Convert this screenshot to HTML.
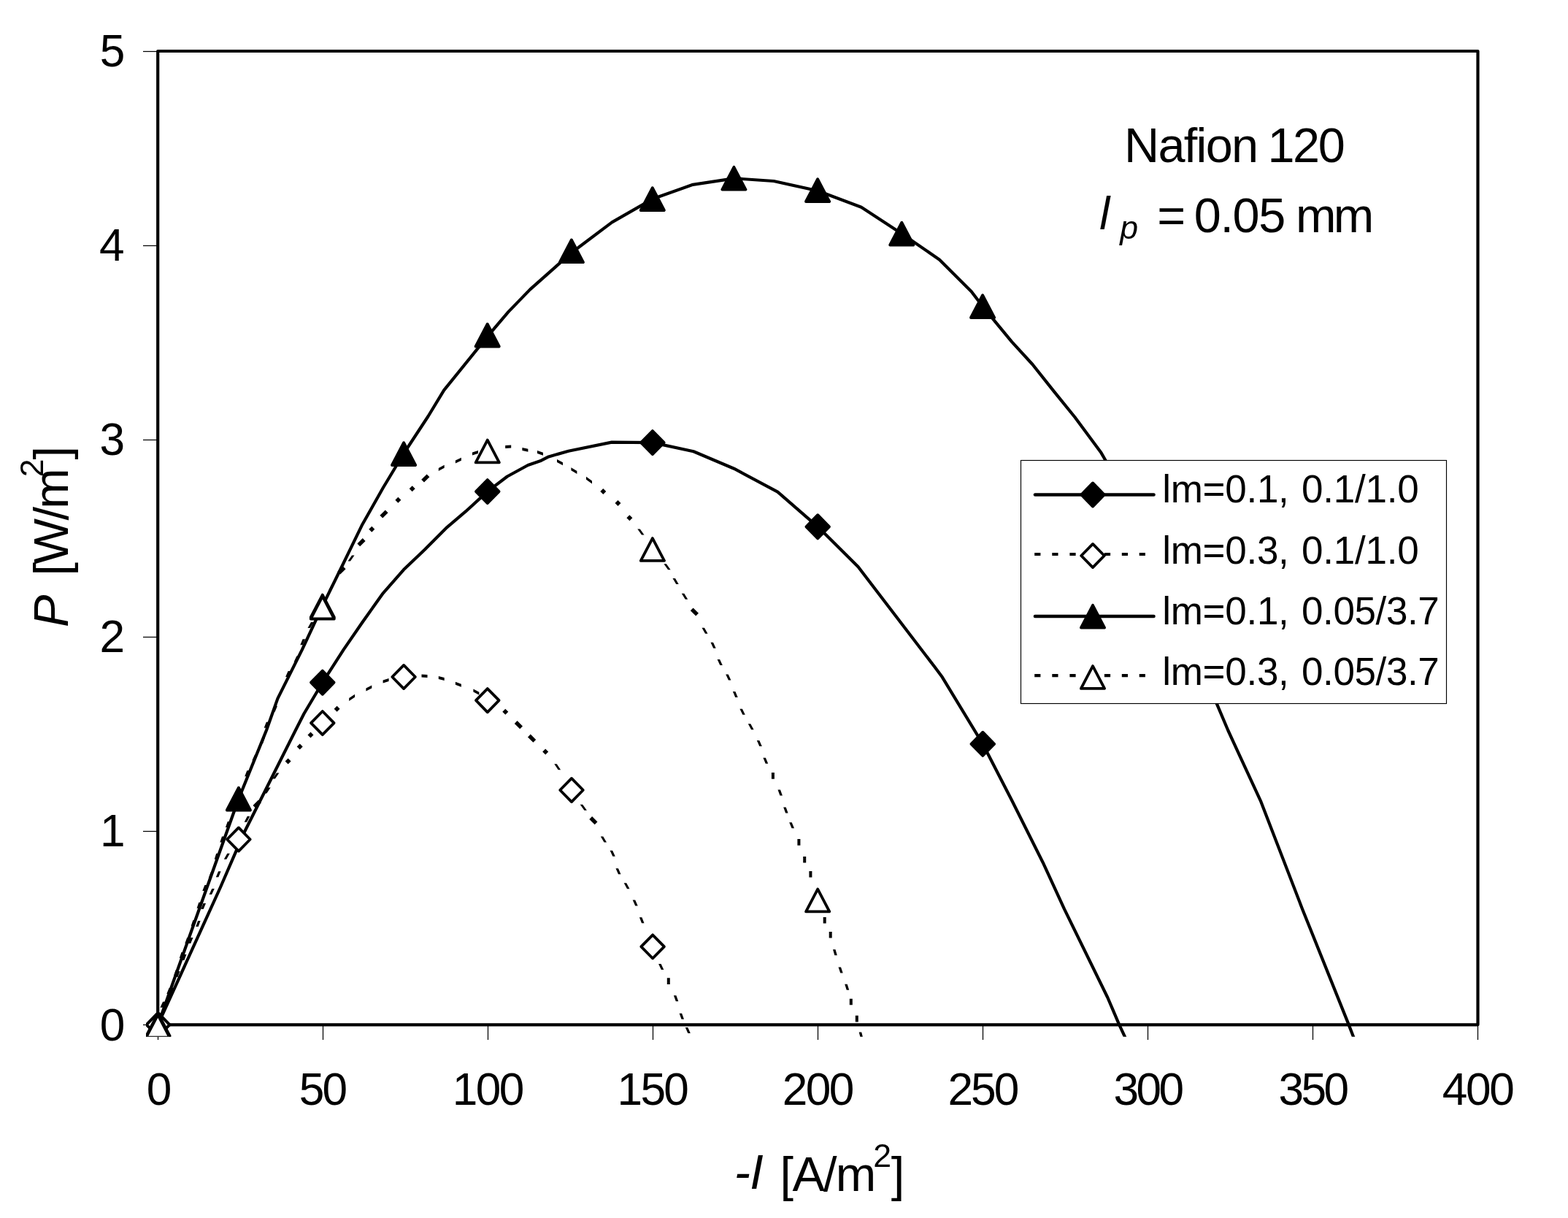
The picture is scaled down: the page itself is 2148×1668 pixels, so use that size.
<!DOCTYPE html>
<html><head><meta charset="utf-8"><title>Nafion 120 power density</title>
<style>html,body{margin:0;padding:0;background:#fff}svg{display:block}text{font-family:"Liberation Sans", Arial, Helvetica, sans-serif;fill:#000}</style></head><body>
<svg width="2148" height="1668" viewBox="0 0 2148 1668">
<rect width="2148" height="1668" fill="#fff"/>
<defs><clipPath id="pc"><rect x="200" y="52" width="1844" height="1367.8"/></clipPath></defs>
<line x1="196" x2="216" y1="70.5" y2="70.5" stroke="#000" stroke-width="1.25"/>
<line x1="196" x2="216" y1="336.5" y2="336.5" stroke="#000" stroke-width="1.25"/>
<line x1="196" x2="216" y1="602.5" y2="602.5" stroke="#000" stroke-width="1.25"/>
<line x1="196" x2="216" y1="872.5" y2="872.5" stroke="#000" stroke-width="1.25"/>
<line x1="196" x2="216" y1="1138.5" y2="1138.5" stroke="#000" stroke-width="1.25"/>
<line x1="196" x2="216" y1="1403.5" y2="1403.5" stroke="#000" stroke-width="1.25"/>
<line x1="216.5" x2="216.5" y1="1403" y2="1424" stroke="#000" stroke-width="1.25"/>
<line x1="442.5" x2="442.5" y1="1403" y2="1424" stroke="#000" stroke-width="1.25"/>
<line x1="668.5" x2="668.5" y1="1403" y2="1424" stroke="#000" stroke-width="1.25"/>
<line x1="894.5" x2="894.5" y1="1403" y2="1424" stroke="#000" stroke-width="1.25"/>
<line x1="1120.5" x2="1120.5" y1="1403" y2="1424" stroke="#000" stroke-width="1.25"/>
<line x1="1346.5" x2="1346.5" y1="1403" y2="1424" stroke="#000" stroke-width="1.25"/>
<line x1="1572.5" x2="1572.5" y1="1403" y2="1424" stroke="#000" stroke-width="1.25"/>
<line x1="1798.5" x2="1798.5" y1="1403" y2="1424" stroke="#000" stroke-width="1.25"/>
<line x1="2024.5" x2="2024.5" y1="1403" y2="1424" stroke="#000" stroke-width="1.25"/>
<rect x="216.2" y="70" width="1808.3" height="1333.3" fill="none" stroke="#000" stroke-width="4.2" stroke-linejoin="round"/>
<g clip-path="url(#pc)" fill="none" stroke="#000" stroke-linejoin="round">
<path d="M216.5,1403.0 L302.0,1215.0 L323.1,1166.3 L335.3,1138.5 L404.9,1000.0 L416.5,977.3 L441.8,934.7 L470.7,889.6 L496.4,852.2 L524.8,812.3 L553.1,780.1 L581.5,753.0 L612.4,722.1 L638.2,700.2 L667.8,673.1 L694.9,652.5 L723.3,637.0 L740.0,631.3 L751.6,625.4 L778.7,617.7 L838.0,605.6 L893.9,606.1 L950.1,618.2 L1005.5,641.7 L1065.3,673.6 L1120.2,721.3 L1175.6,776.2 L1229.7,847.1 L1280.0,912.8 L1290.8,927.3 L1346.3,1018.8 L1386.2,1096.2 L1428.7,1181.2 L1458.0,1244.9 L1517.3,1366.0 L1532.7,1402.1 L1540.5,1418.9 L1549.8,1438.9" stroke-width="4.2"/>
<path d="M216.5,1387.2 l15.8,16.1 l-15.8,16.1 l-15.8,-16.1 z" fill="#000" stroke="#000" stroke-width="3.8" stroke-linejoin="round"/>
<path d="M441.8,918.6 l15.8,16.1 l-15.8,16.1 l-15.8,-16.1 z" fill="#000" stroke="#000" stroke-width="3.8" stroke-linejoin="round"/>
<path d="M667.8,657.0 l15.8,16.1 l-15.8,16.1 l-15.8,-16.1 z" fill="#000" stroke="#000" stroke-width="3.8" stroke-linejoin="round"/>
<path d="M893.9,590.0 l15.8,16.1 l-15.8,16.1 l-15.8,-16.1 z" fill="#000" stroke="#000" stroke-width="3.8" stroke-linejoin="round"/>
<path d="M1120.2,705.2 l15.8,16.1 l-15.8,16.1 l-15.8,-16.1 z" fill="#000" stroke="#000" stroke-width="3.8" stroke-linejoin="round"/>
<path d="M1346.3,1002.7 l15.8,16.1 l-15.8,16.1 l-15.8,-16.1 z" fill="#000" stroke="#000" stroke-width="3.8" stroke-linejoin="round"/>
<path d="M225.3,1376.0 L228.8,1376.0 L225.7,1384.0 L222.2,1384.0Z M234.2,1353.0 L237.7,1353.0 L234.6,1361.0 L231.1,1361.0Z M243.1,1330.0 L246.6,1330.0 L243.5,1338.0 L240.0,1338.0Z M252.0,1307.0 L255.5,1307.0 L252.4,1315.0 L248.9,1315.0Z M261.0,1284.1 L264.5,1284.1 L261.2,1292.0 L257.7,1292.0Z M271.1,1261.0 L274.6,1261.0 L271.7,1268.9 L268.2,1268.9Z M278.5,1237.0 L282.0,1237.0 L278.7,1245.0 L275.2,1245.0Z M290.3,1217.1 L293.8,1217.1 L290.1,1225.0 L286.6,1225.0Z M299.1,1193.2 L302.6,1193.2 L299.3,1201.2 L295.8,1201.2Z M311.3,1168.8 L314.8,1168.8 L310.3,1176.7 L306.8,1176.7Z M327.3,1145.5 L330.8,1145.5 L326.6,1153.5 L323.1,1153.5Z M338.8,1117.8 L342.3,1117.8 L338.2,1125.8 L334.7,1125.8Z M346.5,1103.0 L353.9,1095.6 L357.7,1099.4 L350.3,1106.8Z M367.2,1078.5 L370.7,1078.5 L365.4,1086.5 L361.9,1086.5Z M378.9,1058.5 L382.4,1058.5 L376.9,1066.5 L373.4,1066.5Z M390.6,1042.5 L394.6,1038.5 L398.6,1042.5 L394.6,1046.5Z M406.7,1022.6 L410.7,1018.6 L414.7,1022.6 L410.7,1026.6Z M421.5,1006.4 L425.5,1002.4 L429.5,1006.4 L425.5,1010.4Z M437.8,990.1 L441.8,986.1 L445.8,990.1 L441.8,994.1Z M457.6,970.8 L461.6,966.8 L465.6,970.8 L461.6,974.8Z M478.2,956.0 L486.1,950.8 L486.1,954.8 L478.2,960.0Z M501.4,942.5 L509.3,938.5 L509.3,942.5 L501.4,946.5Z M524.6,931.5 L532.6,928.9 L532.6,932.9 L524.6,935.5Z M549.1,925.5 L557.1,924.5 L557.1,928.5 L549.1,929.5Z M577.5,923.5 L585.5,923.9 L585.5,927.9 L577.5,927.5Z M600.8,926.0 L608.7,928.0 L608.7,932.0 L600.8,930.0Z M623.9,933.8 L631.9,936.8 L631.9,940.8 L623.9,937.8Z M648.4,943.4 L656.4,947.8 L656.4,951.8 L648.4,947.4Z M663.8,954.5 L671.8,959.9 L671.8,963.9 L663.8,958.5Z M688.3,974.7 L692.3,970.7 L696.3,974.7 L692.3,978.7Z M708.6,987.1 L716.0,994.5 L712.2,998.3 L704.8,990.9Z M726.8,1005.6 L734.2,1013.0 L730.4,1016.8 L723.0,1009.4Z M743.2,1029.6 L747.2,1025.6 L751.2,1029.6 L747.2,1033.6Z M759.3,1046.3 L762.8,1046.3 L768.1,1054.2 L764.6,1054.2Z M778.7,1078.0 L782.2,1078.0 L787.3,1086.0 L783.8,1086.0Z M794.7,1101.8 L798.2,1101.8 L803.9,1109.7 L800.4,1109.7Z M811.1,1118.1 L818.5,1125.5 L814.7,1129.3 L807.3,1121.9Z M822.8,1145.5 L826.3,1145.5 L831.0,1153.5 L827.5,1153.5Z M835.6,1164.8 L839.1,1164.8 L842.8,1172.8 L839.3,1172.8Z M843.5,1189.3 L847.0,1189.3 L850.5,1197.2 L847.0,1197.2Z M854.7,1209.2 L858.2,1209.2 L862.5,1217.2 L859.0,1217.2Z M866.7,1232.6 L870.2,1232.6 L873.7,1240.5 L870.2,1240.5Z M875.9,1256.3 L879.4,1256.3 L882.5,1264.2 L879.0,1264.2Z M890.7,1292.5 L894.2,1292.5 L897.5,1300.4 L894.0,1300.4Z M902.1,1320.0 L905.6,1320.0 L909.3,1328.0 L905.8,1328.0Z M913.8,1339.3 L917.8,1339.3 L917.8,1347.9 L913.8,1347.9Z M922.9,1363.3 L926.4,1363.3 L929.3,1371.2 L925.8,1371.2Z M930.6,1387.8 L934.1,1387.8 L937.0,1395.8 L933.5,1395.8Z M938.8,1407.1 L942.3,1407.1 L945.8,1415.0 L942.3,1415.0Z" fill="#000" stroke="none"/>
<path d="M216.5,1387.2 l15.8,16.1 l-15.8,16.1 l-15.8,-16.1 z" fill="#fff" stroke="#000" stroke-width="3.8" stroke-linejoin="round"/>
<path d="M326.9,1133.4 l15.8,16.1 l-15.8,16.1 l-15.8,-16.1 z" fill="#fff" stroke="#000" stroke-width="3.8" stroke-linejoin="round"/>
<path d="M441.8,974.0 l15.8,16.1 l-15.8,16.1 l-15.8,-16.1 z" fill="#fff" stroke="#000" stroke-width="3.8" stroke-linejoin="round"/>
<path d="M553.1,910.9 l15.8,16.1 l-15.8,16.1 l-15.8,-16.1 z" fill="#fff" stroke="#000" stroke-width="3.8" stroke-linejoin="round"/>
<path d="M667.8,943.1 l15.8,16.1 l-15.8,16.1 l-15.8,-16.1 z" fill="#fff" stroke="#000" stroke-width="3.8" stroke-linejoin="round"/>
<path d="M783.0,1065.9 l15.8,16.1 l-15.8,16.1 l-15.8,-16.1 z" fill="#fff" stroke="#000" stroke-width="3.8" stroke-linejoin="round"/>
<path d="M894.1,1280.3 l15.8,16.1 l-15.8,16.1 l-15.8,-16.1 z" fill="#fff" stroke="#000" stroke-width="3.8" stroke-linejoin="round"/>
<path d="M216.5,1403.0 L326.5,1095.0 L365.0,1000.0 L380.4,956.6 L413.9,889.6 L441.8,829.8 L468.1,776.2 L496.4,718.2 L524.8,668.0 L553.1,621.0 L586.6,570.0 L608.2,534.4 L667.7,460.9 L696.6,426.9 L726.2,396.4 L783.0,346.0 L838.4,304.4 L893.8,272.6 L949.2,252.8 L1005.4,244.3 L1060.0,248.0 L1120.1,261.3 L1179.9,283.8 L1235.3,320.1 L1286.8,355.4 L1330.7,399.2 L1346.1,419.6 L1386.1,468.1 L1414.4,499.0 L1444.1,536.4 L1472.4,571.2 L1508.5,620.1 L1514.2,630.0 L1666.7,963.4 L1682.2,1000.0 L1696.4,1030.9 L1727.4,1097.9 L1784.1,1244.9 L1847.2,1402.1 L1853.7,1418.9 L1861.4,1438.8" stroke-width="4.2"/>
<path d="M216.5,1387.9 l16.1,30.8 l-32.2,0 z" fill="#000" stroke="#000" stroke-width="3.8" stroke-linejoin="round"/>
<path d="M326.9,1078.7 l16.1,30.8 l-32.2,0 z" fill="#000" stroke="#000" stroke-width="3.8" stroke-linejoin="round"/>
<path d="M441.8,814.6 l16.1,30.8 l-32.2,0 z" fill="#000" stroke="#000" stroke-width="3.8" stroke-linejoin="round"/>
<path d="M553.1,606.2 l16.1,30.8 l-32.2,0 z" fill="#000" stroke="#000" stroke-width="3.8" stroke-linejoin="round"/>
<path d="M667.7,443.7 l16.1,30.8 l-32.2,0 z" fill="#000" stroke="#000" stroke-width="3.8" stroke-linejoin="round"/>
<path d="M782.9,328.4 l16.1,30.8 l-32.2,0 z" fill="#000" stroke="#000" stroke-width="3.8" stroke-linejoin="round"/>
<path d="M893.8,257.2 l16.1,30.8 l-32.2,0 z" fill="#000" stroke="#000" stroke-width="3.8" stroke-linejoin="round"/>
<path d="M1005.4,228.8 l16.1,30.8 l-32.2,0 z" fill="#000" stroke="#000" stroke-width="3.8" stroke-linejoin="round"/>
<path d="M1120.1,245.2 l16.1,30.8 l-32.2,0 z" fill="#000" stroke="#000" stroke-width="3.8" stroke-linejoin="round"/>
<path d="M1235.3,304.7 l16.1,30.8 l-32.2,0 z" fill="#000" stroke="#000" stroke-width="3.8" stroke-linejoin="round"/>
<path d="M1346.1,404.2 l16.1,30.8 l-32.2,0 z" fill="#000" stroke="#000" stroke-width="3.8" stroke-linejoin="round"/>
<path d="M223.1,1371.8 L226.6,1371.8 L222.9,1379.7 L219.4,1379.7Z M231.6,1353.0 L235.1,1353.0 L231.8,1361.0 L228.3,1361.0Z M240.6,1328.5 L244.1,1328.5 L241.4,1336.5 L237.9,1336.5Z M248.5,1304.0 L252.0,1304.0 L249.3,1312.0 L245.8,1312.0Z M256.2,1284.0 L259.7,1284.0 L256.8,1292.0 L253.3,1292.0Z M264.3,1260.2 L267.8,1260.2 L265.1,1268.2 L261.6,1268.2Z M272.3,1235.8 L275.8,1235.8 L273.1,1243.7 L269.6,1243.7Z M280.4,1212.0 L283.9,1212.0 L280.8,1220.0 L277.3,1220.0Z M288.6,1194.5 L292.1,1194.5 L289.2,1202.5 L285.7,1202.5Z M296.2,1168.8 L299.7,1168.8 L297.2,1176.7 L293.7,1176.7Z M304.0,1145.5 L307.5,1145.5 L304.8,1153.5 L301.3,1153.5Z M311.8,1125.0 L315.3,1125.0 L312.4,1132.9 L308.9,1132.9Z M338.3,1055.3 L341.8,1055.3 L338.7,1063.2 L335.2,1063.2Z M349.0,1033.5 L352.5,1033.5 L348.8,1041.4 L345.3,1041.4Z M359.5,1010.2 L363.0,1010.2 L360.1,1018.2 L356.6,1018.2Z M364.8,988.8 L368.3,988.8 L365.2,996.7 L361.7,996.7Z M376.5,966.8 L380.0,966.8 L376.7,974.8 L373.2,974.8Z M394.6,919.1 L398.1,919.1 L394.6,927.1 L391.1,927.1Z M406.3,898.5 L409.8,898.5 L406.1,906.5 L402.6,906.5Z M414.6,875.3 L418.1,875.3 L414.8,883.2 L411.3,883.2Z M426.0,852.1 L429.5,852.1 L425.0,860.1 L421.5,860.1Z M442.2,828.1 L445.7,828.1 L441.4,836.1 L437.9,836.1Z M454.2,800.6 L457.7,800.6 L453.6,808.6 L450.1,808.6Z M462.4,782.8 L469.8,775.4 L473.6,779.2 L466.2,786.6Z M482.0,760.6 L485.5,760.6 L480.0,768.6 L476.5,768.6Z M489.4,744.5 L496.8,737.1 L500.6,740.9 L493.2,748.3Z M505.3,724.7 L509.3,720.7 L513.3,724.7 L509.3,728.7Z M520.4,705.8 L527.8,698.4 L531.6,702.2 L524.2,709.6Z M541.4,684.7 L545.4,680.7 L549.4,684.7 L545.4,688.7Z M560.7,669.2 L564.7,665.2 L568.7,669.2 L564.7,673.2Z M577.2,656.8 L584.6,649.4 L588.4,653.2 L581.0,660.6Z M600.8,641.0 L608.7,636.8 L608.7,640.8 L600.8,645.0Z M623.9,630.4 L631.9,626.8 L631.9,630.8 L623.9,634.4Z M647.0,619.5 L655.0,617.1 L655.0,621.1 L647.0,623.5Z M663.8,616.7 L671.8,615.3 L671.8,619.3 L663.8,620.7Z M692.2,610.0 L700.2,609.6 L700.2,613.6 L692.2,614.0Z M715.4,613.1 L723.4,614.7 L723.4,618.7 L715.4,617.1Z M736.0,616.9 L744.0,619.7 L744.0,623.7 L736.0,620.9Z M763.0,629.1 L771.0,633.3 L771.0,637.3 L763.0,633.1Z M782.4,640.3 L790.4,645.1 L790.4,649.1 L782.4,644.3Z M803.0,652.8 L811.0,658.4 L811.0,662.4 L803.0,656.8Z M822.3,673.1 L826.3,669.1 L830.3,673.1 L826.3,677.1Z M842.5,689.1 L846.5,685.1 L850.5,689.1 L846.5,693.1Z M858.4,709.2 L862.4,705.2 L866.4,709.2 L862.4,713.2Z M873.3,724.5 L876.8,724.5 L882.5,732.5 L879.0,732.5Z M889.2,748.5 L892.7,748.5 L898.6,756.5 L895.1,756.5Z M909.4,772.2 L912.9,772.2 L918.6,780.2 L915.1,780.2Z M921.5,792.0 L925.0,792.0 L929.7,800.0 L926.2,800.0Z M933.8,812.8 L937.3,812.8 L942.2,820.7 L938.7,820.7Z M949.6,832.4 L957.0,839.8 L953.2,843.6 L945.8,836.2Z M961.5,859.8 L965.0,859.8 L969.5,867.8 L966.0,867.8Z M973.5,879.8 L977.0,879.8 L980.7,887.7 L977.2,887.7Z M982.6,902.9 L986.1,902.9 L989.8,910.9 L986.3,910.9Z M994.2,923.5 L997.7,923.5 L1001.4,931.5 L997.9,931.5Z M1003.9,947.0 L1007.4,947.0 L1010.7,955.0 L1007.2,955.0Z M1013.4,970.8 L1016.9,970.8 L1020.8,978.7 L1017.3,978.7Z M1024.8,991.3 L1028.3,991.3 L1032.6,999.2 L1029.1,999.2Z M1036.8,1014.0 L1040.3,1014.0 L1043.8,1022.0 L1040.3,1022.0Z M1045.4,1037.8 L1048.9,1037.8 L1052.2,1045.8 L1048.7,1045.8Z M1056.9,1058.1 L1060.9,1058.1 L1060.9,1066.7 L1056.9,1066.7Z M1065.5,1081.6 L1069.0,1081.6 L1071.9,1089.5 L1068.4,1089.5Z M1073.2,1105.5 L1076.7,1105.5 L1079.6,1113.5 L1076.1,1113.5Z M1081.2,1126.2 L1084.7,1126.2 L1088.0,1134.2 L1084.5,1134.2Z M1092.4,1149.1 L1096.4,1149.1 L1096.4,1157.7 L1092.4,1157.7Z M1100.2,1173.0 L1104.2,1173.0 L1104.2,1181.6 L1100.2,1181.6Z M1108.4,1192.9 L1112.4,1192.9 L1112.4,1201.5 L1108.4,1201.5Z M1117.2,1229.0 L1120.7,1229.0 L1123.2,1237.0 L1119.7,1237.0Z M1127.7,1256.0 L1131.7,1256.0 L1131.7,1264.6 L1127.7,1264.6Z M1135.7,1275.9 L1139.7,1275.9 L1139.7,1284.5 L1135.7,1284.5Z M1141.0,1300.2 L1144.5,1300.2 L1146.8,1308.2 L1143.3,1308.2Z M1148.5,1324.6 L1152.0,1324.6 L1154.7,1332.5 L1151.2,1332.5Z M1157.2,1347.8 L1160.7,1347.8 L1163.2,1355.8 L1159.7,1355.8Z M1163.8,1367.7 L1167.8,1367.7 L1167.8,1376.3 L1163.8,1376.3Z M1171.8,1390.8 L1175.8,1390.8 L1175.8,1399.4 L1171.8,1399.4Z M1176.7,1413.6 L1180.2,1413.6 L1182.3,1421.5 L1178.8,1421.5Z" fill="#000" stroke="none"/>
<path d="M216.3,1389.9 l16.1,30.8 l-32.2,0 z" fill="#fff" stroke="#000" stroke-width="3.8" stroke-linejoin="round"/>
<path d="M441.8,816.7 l16.1,30.8 l-32.2,0 z" fill="#fff" stroke="#000" stroke-width="3.8" stroke-linejoin="round"/>
<path d="M667.8,602.6 l16.1,30.8 l-32.2,0 z" fill="#fff" stroke="#000" stroke-width="3.8" stroke-linejoin="round"/>
<path d="M893.9,737.1 l16.1,30.8 l-32.2,0 z" fill="#fff" stroke="#000" stroke-width="3.8" stroke-linejoin="round"/>
<path d="M1120.2,1217.6 l16.1,30.8 l-32.2,0 z" fill="#fff" stroke="#000" stroke-width="3.8" stroke-linejoin="round"/>
</g>
<text x="136.7" y="91.3" font-size="62.2">5</text>
<text x="136.1" y="356.8" font-size="62.2">4</text>
<text x="136.6" y="623.2" font-size="62.2">3</text>
<text x="136.5" y="892.8" font-size="62.2">2</text>
<text x="137.0" y="1158.8" font-size="62.2">1</text>
<text x="136.8" y="1425.2" font-size="62.2">0</text>
<text x="200.7" y="1512.6" font-size="62.2">0</text>
<text x="409.8" y="1512.6" font-size="62.2" letter-spacing="-2.96">50</text>
<text x="619.8" y="1512.6" font-size="62.2" letter-spacing="-2.60">100</text>
<text x="845.4" y="1512.6" font-size="62.2" letter-spacing="-2.60">150</text>
<text x="1071.8" y="1512.6" font-size="62.2" letter-spacing="-2.60">200</text>
<text x="1298.4" y="1512.6" font-size="62.2" letter-spacing="-2.96">250</text>
<text x="1525.4" y="1512.6" font-size="62.2" letter-spacing="-3.59">300</text>
<text x="1751.6" y="1512.6" font-size="62.2" letter-spacing="-3.59">350</text>
<text x="1975.8" y="1512.6" font-size="62.2" letter-spacing="-2.42">400</text>
<text x="1540.0" y="222.1" font-size="66.6" letter-spacing="-1.68">Nafion</text>
<text x="1736.4" y="222.1" font-size="66.6" letter-spacing="-2.36">120</text>
<text x="1506.2" y="313.9" font-size="62.8" font-style="italic">l</text>
<text x="1534.2" y="327.2" font-size="44.7" font-style="italic">p</text>
<text x="1585.3" y="318.0" font-size="66.6">=</text>
<text x="1635.8" y="318.0" font-size="66.6" letter-spacing="-1.40">0.05</text>
<text x="1775.0" y="318.0" font-size="66.6" letter-spacing="-3.62">mm</text>
<text x="1005.8" y="1627.9" font-size="66.6" font-style="italic" letter-spacing="-0.74">-I</text>
<text x="1068.6" y="1631.0" font-size="66.6" letter-spacing="-1.72">[A/m</text>
<text x="1196.3" y="1597.6" font-size="44.7">2</text>
<text x="1220.8" y="1631.0" font-size="66.6">]</text>
<text transform="translate(93.1,859.0) rotate(-90)" font-size="66.6" font-style="italic">P</text>
<text transform="translate(93.1,788.4) rotate(-90)" font-size="66.6" letter-spacing="-2.74">[W/m</text>
<text transform="translate(58.8,653.3) rotate(-90)" font-size="44.7">2</text>
<text transform="translate(93.1,629.4) rotate(-90)" font-size="66.6">]</text>
<rect x="1398.5" y="630.5" width="583" height="333" fill="#fff" stroke="#000" stroke-width="1.15"/>
<line x1="1418" x2="1580.5" y1="677.5" y2="677.5" stroke="#000" stroke-width="4.6" stroke-linecap="round"/>
<path d="M1497.0,661.4 l15.8,16.1 l-15.8,16.1 l-15.8,-16.1 z" fill="#000" stroke="#000" stroke-width="3.8" stroke-linejoin="round"/>
<line x1="1417.2" x2="1480" y1="759.0" y2="759.0" stroke="#000" stroke-width="4.2" stroke-dasharray="8.2 15.9"/>
<line x1="1512.9" x2="1570" y1="759.0" y2="759.0" stroke="#000" stroke-width="4.2" stroke-dasharray="8.2 15.7"/>
<path d="M1497.0,744.9 l15.8,16.1 l-15.8,16.1 l-15.8,-16.1 z" fill="#fff" stroke="#000" stroke-width="3.8" stroke-linejoin="round"/>
<line x1="1418" x2="1580.5" y1="844.0" y2="844.0" stroke="#000" stroke-width="4.6" stroke-linecap="round"/>
<path d="M1497.0,828.8 l16.1,30.8 l-32.2,0 z" fill="#000" stroke="#000" stroke-width="3.8" stroke-linejoin="round"/>
<line x1="1417.2" x2="1480" y1="925.2" y2="925.2" stroke="#000" stroke-width="4.2" stroke-dasharray="8.2 15.9"/>
<line x1="1512.9" x2="1570" y1="925.2" y2="925.2" stroke="#000" stroke-width="4.2" stroke-dasharray="8.2 15.7"/>
<path d="M1497.0,912.1 l16.1,30.8 l-32.2,0 z" fill="#fff" stroke="#000" stroke-width="3.8" stroke-linejoin="round"/>
<text x="1592.2" y="688.0" font-size="53.0" letter-spacing="-0.27">lm=0.1,</text>
<text x="1783.0" y="688.0" font-size="53.0" letter-spacing="-0.24">0.1/1.0</text>
<text x="1592.2" y="772.0" font-size="53.0" letter-spacing="-0.27">lm=0.3,</text>
<text x="1783.0" y="772.0" font-size="53.0" letter-spacing="-0.24">0.1/1.0</text>
<text x="1592.2" y="855.0" font-size="53.0" letter-spacing="-0.27">lm=0.1,</text>
<text x="1783.0" y="855.0" font-size="53.0" letter-spacing="-0.39">0.05/3.7</text>
<text x="1592.2" y="938.0" font-size="53.0" letter-spacing="-0.27">lm=0.3,</text>
<text x="1783.0" y="938.0" font-size="53.0" letter-spacing="-0.39">0.05/3.7</text>
</svg></body></html>
